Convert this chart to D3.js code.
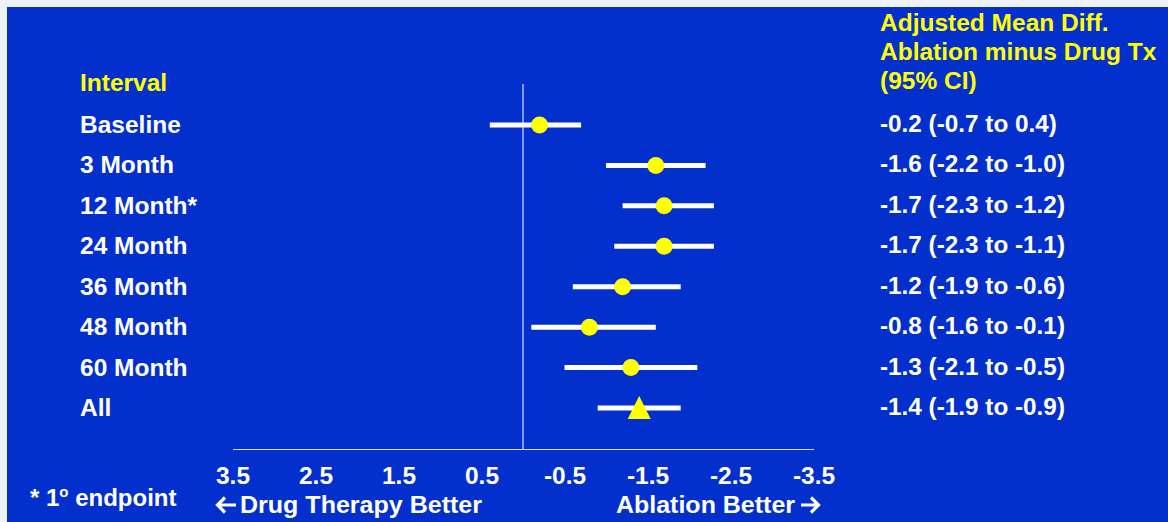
<!DOCTYPE html>
<html><head><meta charset="utf-8">
<script src="https://cdn.jsdelivr.net/npm/d3@7"></script>
<style>html,body{margin:0;padding:0;background:#eef1f8;}svg{display:block;}</style>
</head><body>
<svg id="c" width="1168" height="522"></svg>
<script>
const intervals = ["Baseline","3 Month","12 Month*","24 Month","36 Month","48 Month","60 Month","All"];
const meanDiff = [-0.2,-1.6,-1.7,-1.7,-1.2,-0.8,-1.3,-1.4];
const ciLow   = [-0.7,-2.2,-2.3,-2.3,-1.9,-1.6,-2.1,-1.9];
const ciHigh  = [0.4,-1.0,-1.2,-1.1,-0.6,-0.1,-0.5,-0.9];
const ciText  = ["-0.2 (-0.7 to 0.4)","-1.6 (-2.2 to -1.0)","-1.7 (-2.3 to -1.2)","-1.7 (-2.3 to -1.1)","-1.2 (-1.9 to -0.6)","-0.8 (-1.6 to -0.1)","-1.3 (-2.1 to -0.5)","-1.4 (-1.9 to -0.9)"];
const tickVals = [3.5,2.5,1.5,0.5,-0.5,-1.5,-2.5,-3.5];
const headerLines = ["Adjusted Mean Diff.","Ablation minus Drug Tx","(95% CI)"];

const svg = d3.select("#c");
const FONT = "'Liberation Sans', Arial, sans-serif";
const BLUE = "#0330CC", YEL = "#FFFF00";
svg.append("rect").attr("x",7).attr("y",7).attr("width",1161).attr("height",515).attr("fill",BLUE);

const x = d3.scaleLinear().domain([3.5,-3.5]).range([232.5,813.5]);
const y = d3.scalePoint().domain(intervals).range([125,408]);
const axisY = 449;

// zero line
svg.append("line").attr("x1",x(0)).attr("x2",x(0)).attr("y1",84).attr("y2",axisY)
  .attr("stroke","#ffffff").attr("stroke-width",1);

// axis
const ax = svg.append("g").attr("transform",`translate(0,${axisY})`)
  .call(d3.axisBottom(x).tickValues(tickVals).tickSize(0).tickPadding(18).tickFormat(d=>d.toFixed(1)));
ax.select(".domain").attr("stroke","#d8def5").attr("stroke-width",1);
ax.selectAll("text").attr("fill","#fff").attr("font-family",FONT).attr("font-weight","bold").attr("font-size",24.5);

// CI bars
const g = svg.append("g");
intervals.forEach((k,i)=>{
  g.append("line").attr("x1",x(ciLow[i])).attr("x2",x(ciHigh[i])).attr("y1",y(k)).attr("y2",y(k))
    .attr("stroke","#fff").attr("stroke-width",5);
});
intervals.forEach((k,i)=>{
  const cx = x(meanDiff[i]), cy = y(k);
  if (k === "All") {
    g.append("path").attr("d",`M${cx},${cy-12}L${cx+11.5},${cy+11}L${cx-11.5},${cy+11}Z`).attr("fill",YEL);
  } else {
    g.append("circle").attr("cx",cx).attr("cy",cy).attr("r",8.5).attr("fill",YEL);
  }
});

// text helper
const txt = (xx,yy,s,fill,anchor,size)=>svg.append("text").attr("x",xx).attr("y",yy).text(s)
  .attr("fill",fill).attr("font-family",FONT).attr("font-weight","bold").attr("font-size",size||24.5)
  .attr("text-anchor",anchor||"start");
txt(80,91,"Interval",YEL);
intervals.forEach((k,i)=>txt(80,y(k)+8,k,"#fff"));
// right column
headerLines.forEach((s,i)=>txt(880,31+i*29,s,YEL,"start",24.5));
intervals.forEach((k,i)=>txt(880,y(k)+7,ciText[i],"#fff","start",24.3));

// axis direction labels with drawn arrows
txt(240,513,"Drug Therapy Better","#fff","start",23.5).attr("textLength",242).attr("lengthAdjust","spacingAndGlyphs");
txt(795,513,"Ablation Better","#fff","end",23.5).attr("textLength",179).attr("lengthAdjust","spacingAndGlyphs");
const ar = svg.append("g").attr("fill","none").attr("stroke","#fff").attr("stroke-width",3.2)
  .attr("stroke-linejoin","miter").attr("stroke-linecap","butt");
ar.append("path").attr("d","M236,505H218M225,497.5L217.5,505L225,512.5");
ar.append("path").attr("d","M801,505H819M811,497.5L818.5,505L811,512.5");

// footnote
const fn = svg.append("text").attr("x",30).attr("y",506).attr("fill","#fff")
  .attr("font-family",FONT).attr("font-weight","bold").attr("font-size",24);
fn.append("tspan").text("* 1");
fn.append("tspan").text("o").attr("font-size",15).attr("dy",-9);
fn.append("tspan").text(" endpoint").attr("dy",9);
</script>
</body></html>
